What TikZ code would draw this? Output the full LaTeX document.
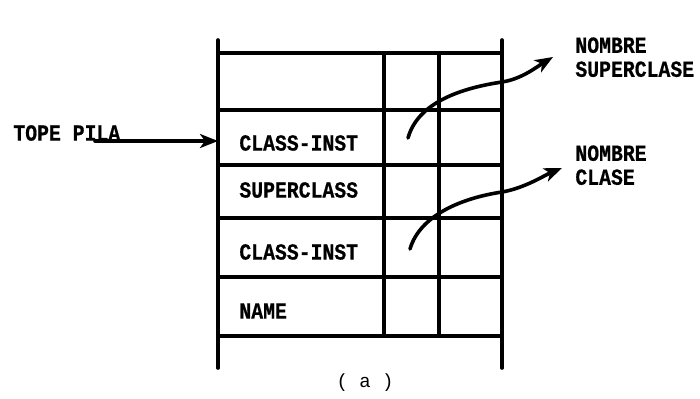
\documentclass[tikz,border=0pt]{standalone}
\usepackage{fontspec}
\setmonofont{Liberation Mono}
\newfontfamily\lblfont[FakeStretch=0.86,BoldFont={* Bold},FakeBold=0.6]{Liberation Mono}
\usetikzlibrary{arrows.meta}
\begin{document}
\begin{tikzpicture}[x=0.5pt,y=-0.5pt,
  rule/.style={line width=1.8pt, line cap=round},
  lbl/.style={font=\lblfont\bfseries\fontsize{11.5}{13}\selectfont, anchor=west, inner sep=0pt},
  ptr/.style={line width=1.8pt, line cap=round, -{Stealth[length=9pt,width=7pt,inset=2.5pt]}},
]
\useasboundingbox (0,0) rectangle (700,398);
% stack frame: outer walls and row separators
\draw[rule] (218,40) -- (218,368);
\draw[rule] (502,40) -- (502,368);
\foreach \y in {53,110,165,218,277,336} \draw[rule] (218,\y) -- (502,\y);
\draw[rule] (384,53) -- (384,336);
\draw[rule] (439,53) -- (439,336);

% entries
\node[lbl] (ci1) at (239,143) {CLASS-INST};
\node[lbl] (sup) at (239,190) {SUPERCLASS};
\node[lbl] (ci2) at (239,252) {CLASS-INST};
\node[lbl] (nam) at (239,311) {NAME};

% stack top pointer
\node[lbl] (tope) at (13,133) {TOPE PILA};
\coordinate (topeend) at (95,141);
\coordinate (topetip) at (218,141);
\draw[ptr] (topeend) -- (topetip);

% targets
\node[lbl, anchor=north west, align=left] (nsup) at (575,37) {NOMBRE\\[-1pt]SUPERCLASE};
\node[lbl, anchor=north west, align=left] (ncla) at (575,145) {NOMBRE\\[-1pt]CLASE};

% pointers out of the cells
\coordinate (p1) at (408,138);
\coordinate (t1) at (553,57);
\coordinate (p2) at (410,249);
\coordinate (t2) at (562,168);
\draw[ptr] (p1) .. controls (418,102) and (462,88) .. (502,82) .. controls (522,79) and (538,66) .. (t1);
\draw[ptr] (p2) .. controls (420,215) and (462,198) .. (502,192) .. controls (525,188) and (545,175) .. (t2);

% caption
\node[font=\ttfamily\fontsize{9.5}{11}\selectfont, inner sep=0pt] (cap) at (365,383) {( a )};
\end{tikzpicture}
\end{document}
